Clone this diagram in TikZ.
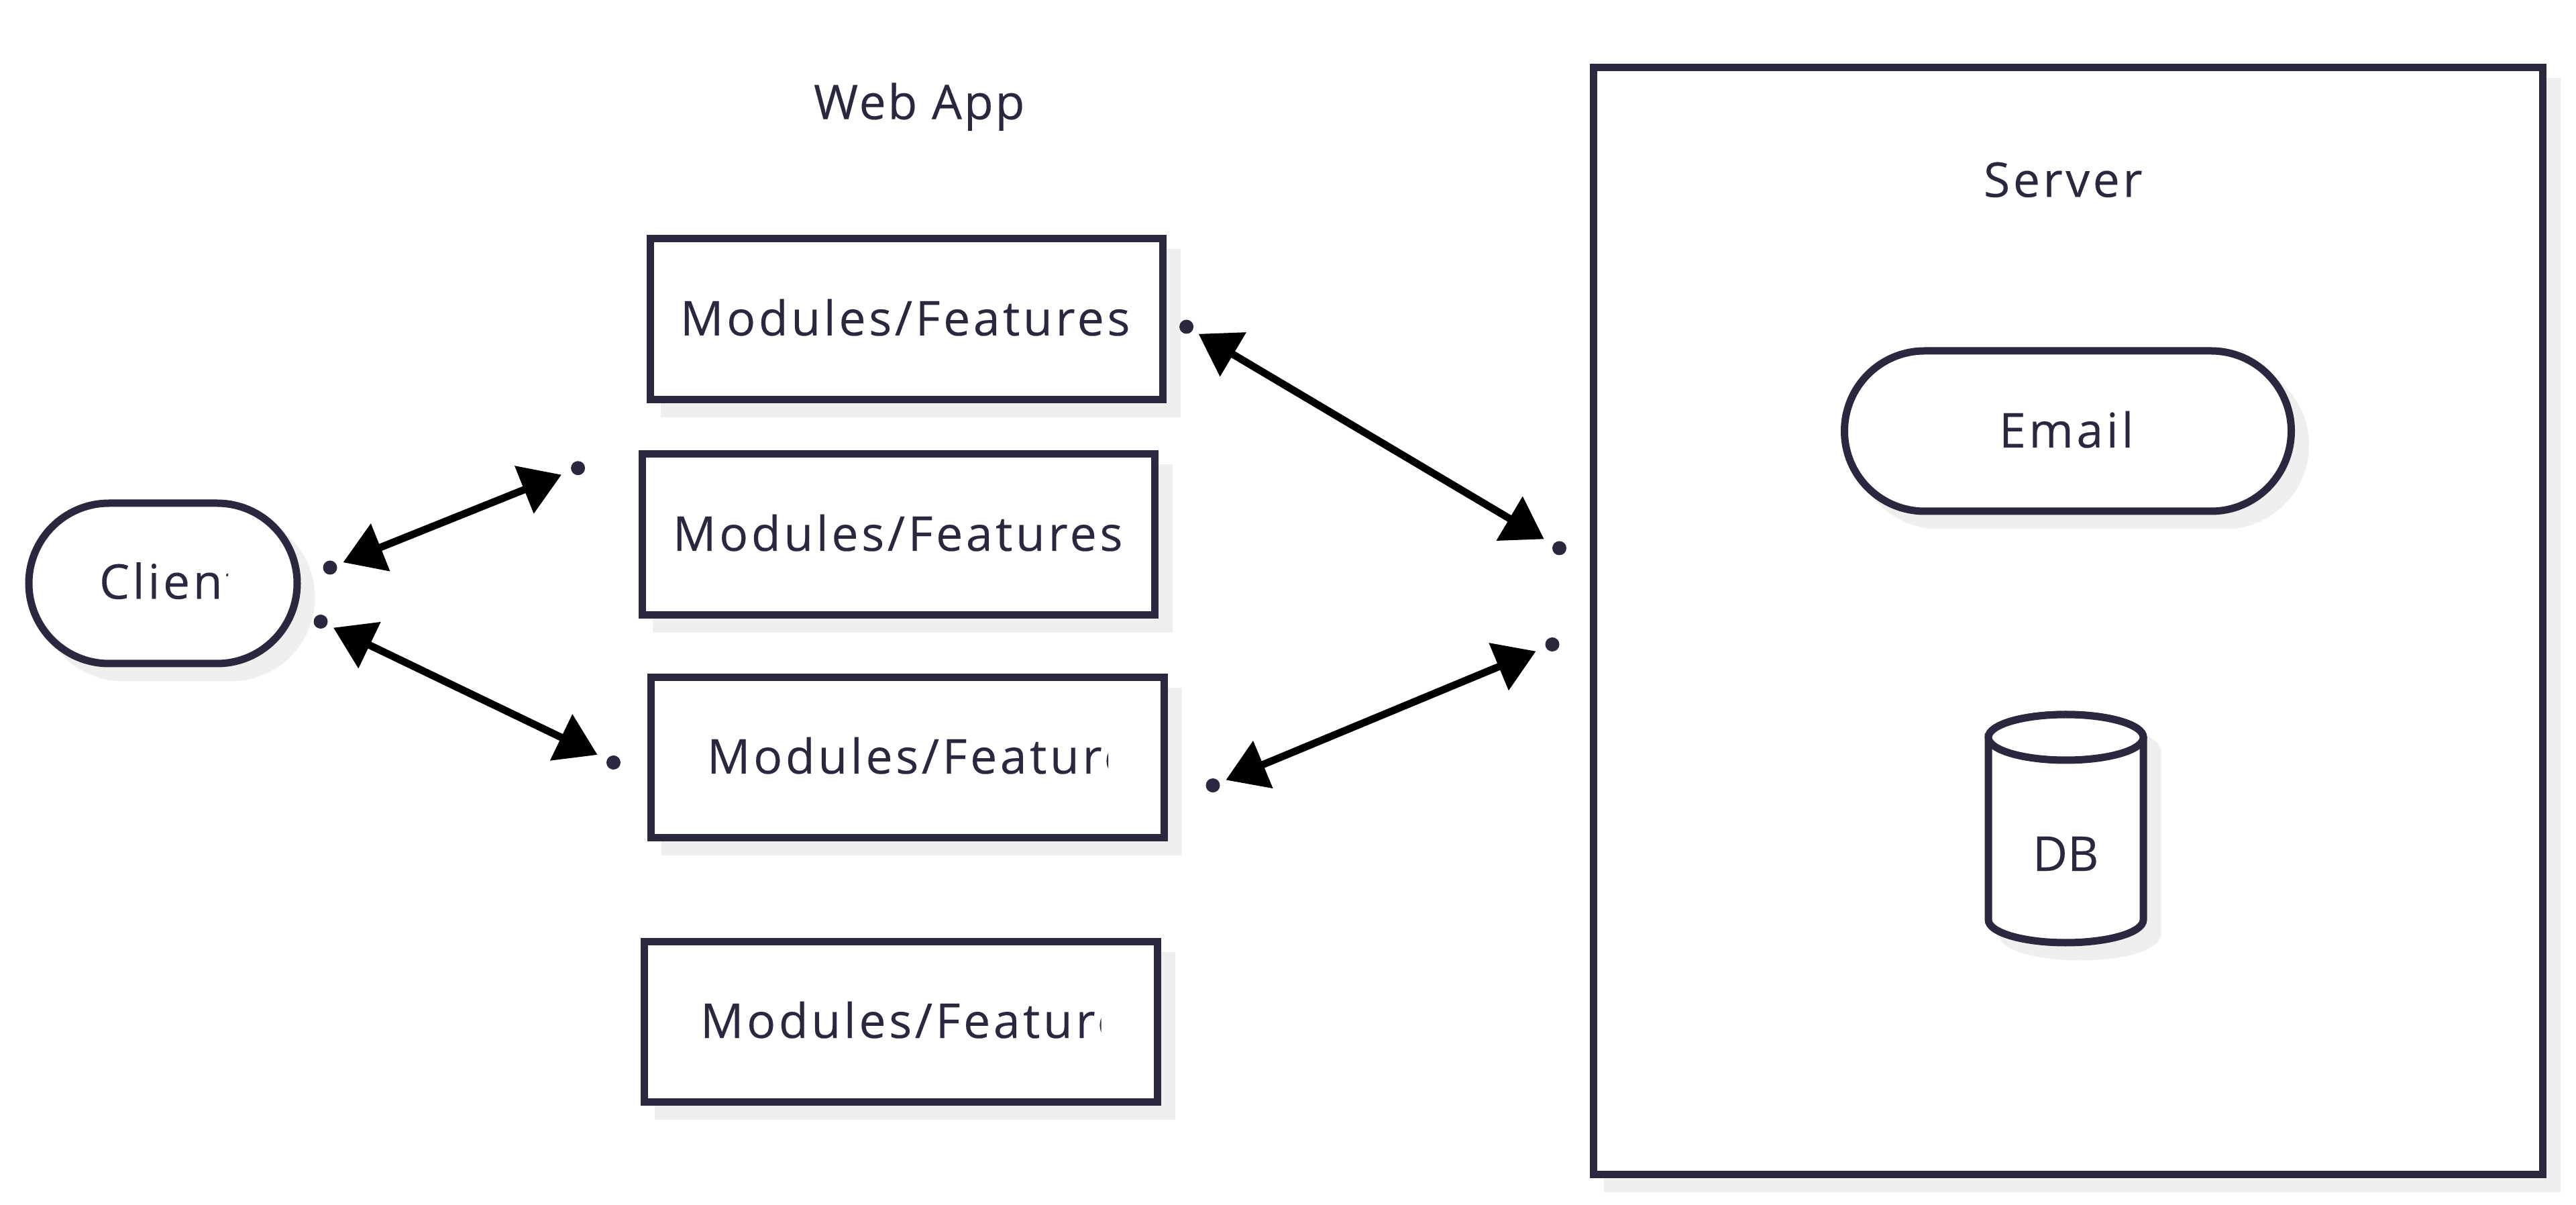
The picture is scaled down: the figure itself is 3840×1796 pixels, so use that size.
\documentclass[tikz,border=0pt]{standalone}
\usepackage{fontspec}
\setmainfont[LetterSpace=6.4,FakeBold=0.15]{Open Sans}
\newfontfamily\webfont[LetterSpace=4,FakeBold=0.15]{Open Sans}
\newfontfamily\dbfont[LetterSpace=0,FakeBold=0.15]{Open Sans}
\usetikzlibrary{arrows.meta,shadows}
\definecolor{ink}{HTML}{29283F}
\definecolor{shade}{HTML}{EFEFF0}
\tikzset{
  x=0.2pt,y=-0.2pt,
  softshadow/.style={general shadow={shadow xshift=4.2pt,shadow yshift=-4.2pt,fill=shade,draw=shade,line width=2.2pt}},
  modbox/.style={draw=ink,fill=white,line width=2.2pt,rectangle,inner sep=0pt,outer sep=0pt,minimum width=#1,minimum height=47.9pt,softshadow},
  pill/.style={draw=ink,fill=white,line width=2.2pt,rectangle,inner sep=0pt,outer sep=0pt,rounded corners=23.9pt,minimum height=47.8pt,minimum width=#1,softshadow},
  txt/.style={inner sep=0pt,outer sep=0pt,anchor=base west,text=ink,font=\fontsize{14.3}{16}\selectfont},
  portdot/.style={circle,fill=ink,draw=none,inner sep=0pt,outer sep=0pt,minimum size=4.2pt},
  link/.style={draw=black,line width=2.2pt,{Triangle[length=12pt,width=14.8pt]}-{Triangle[length=12pt,width=14.8pt]},shorten >=3.2pt,shorten <=2.1pt},
  dbline/.style={draw=ink,fill=white,line width=2.2pt},
  dbshade/.style={draw=shade,fill=shade,line width=2.2pt}
}
\begin{document}
\begin{tikzpicture}
\useasboundingbox (0,0) rectangle (3840,1796);
\fill[white] (0,0) rectangle (3840,1796);
% server
\node[modbox=283pt,minimum height=329.8pt] (server) at (3082.5,925.5) {};
\node[txt] (servertitle) at (2957,293.5) {Server};
\node[pill=133.2pt] (email) at (3082.5,642.5) {};
\node[txt] (emailtext) at (2980,667) {Email};
% database
\begin{scope}[shift={(21,21)}]
\draw[dbshade] (2964,1099) -- (2964,1371) arc[start angle=180,end angle=0,x radius=115.5,y radius=34] -- (3195,1099) arc[start angle=0,end angle=-180,x radius=115.5,y radius=34] -- cycle;
\end{scope}
\draw[dbline] (2964,1099) -- (2964,1371) arc[start angle=180,end angle=0,x radius=115.5,y radius=34] -- (3195,1099) arc[start angle=0,end angle=-180,x radius=115.5,y radius=34] -- cycle;
\draw[dbline] (3079.5,1099) ellipse[x radius=115.5,y radius=34];
\node[txt,font=\fontsize{14.3}{16}\dbfont] (dbtext) at (3030,1298) {DB};
% web app
\node[txt,font=\fontsize{14.3}{16}\webfont] (webtitle) at (1213,177.7) {Web App};
\node[modbox=152.8pt] (m1) at (1351,475.5) {};
\node[modbox=152.8pt] (m2) at (1339,796.5) {};
\node[modbox=153pt] (m3) at (1352.5,1129) {};
\node[modbox=153pt] (m4) at (1343,1523) {};
\node[txt] (m1text) at (1014,500) {Modules/Features};
\node[txt] (m2text) at (1003,821) {Modules/Features};
\begin{scope}
\clip (1040,1060) rectangle (1652,1200);
\node[txt] (m3text) at (1054,1153) {Modules/Features};
\end{scope}
\begin{scope}
\clip (1030,1450) rectangle (1641.6,1600);
\node[txt] (m4text) at (1044,1547) {Modules/Features};
\end{scope}
% client
\node[pill=80pt] (client) at (243,869.5) {};
\begin{scope}
\clip (140,800) rectangle (340,940);
\node[txt] (clienttext) at (148,892.5) {Client};
\end{scope}
% ports
\node[portdot] (p1) at (492,846) {};
\node[portdot] (p2) at (861.6,697.7) {};
\node[portdot] (p3) at (478,926.5) {};
\node[portdot] (p4) at (914.5,1136.5) {};
\node[portdot] (p5) at (1768.6,487) {};
\node[portdot] (p6) at (2324.5,817) {};
\node[portdot] (p7) at (1808,1170.6) {};
\node[portdot] (p8) at (2314,960.5) {};
% links
\draw[link] (p1) -- (p2);
\draw[link] (p3) -- (p4);
\draw[link] (p5) -- (p6);
\draw[link] (p7) -- (p8);
\end{tikzpicture}
\end{document}
